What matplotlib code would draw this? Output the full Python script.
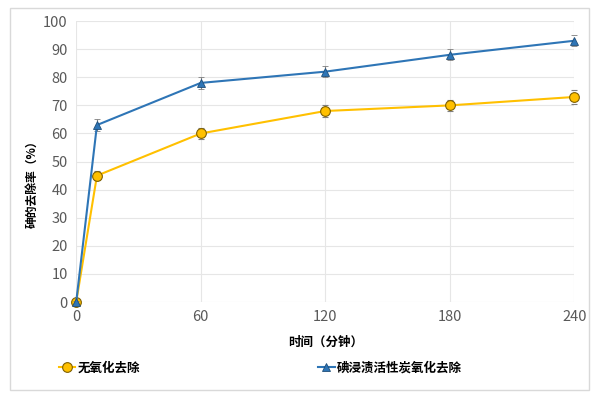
import matplotlib.pyplot as plt
from matplotlib.patches import Rectangle
from matplotlib.lines import Line2D

plt.rcParams['font.family'] = ['Noto Sans CJK SC', 'DejaVu Sans']

# data
time_min = [0, 10, 60, 120, 180, 240]
no_oxid = [0, 45, 60, 68, 70, 73]
iodine_ac = [0, 63, 78, 82, 88, 93]
no_oxid_err = [0.5, 1.5, 2, 2, 2, 2.5]
iodine_err = [0.5, 2, 2, 2, 2, 2]
x_ticks = [0, 60, 120, 180, 240]
y_ticks = list(range(0, 101, 10))

fig = plt.figure(figsize=(6, 3.98), dpi=100)
ax = fig.add_axes([0.127, 0.241, 0.83, 0.706])

# light frame around the whole chart
fig.patches.append(Rectangle((0.017, 0.02), 0.965, 0.96, transform=fig.transFigure,
                             fill=False, edgecolor='#d9d9d9', linewidth=1))

yellow_style = dict(color='#FFC000', linewidth=1.5, marker='o', markersize=7,
                    markerfacecolor='#FFC000', markeredgecolor='#7f6000', markeredgewidth=0.8)
blue_style = dict(color='#2E75B6', linewidth=1.5, marker='^', markersize=6,
                  markerfacecolor='#2E75B6', markeredgecolor='#1f4e79', markeredgewidth=0.6)

ax.errorbar(time_min, no_oxid, yerr=no_oxid_err, ecolor='#7f7f7f', elinewidth=0.8,
            capsize=2, zorder=3, **yellow_style)
ax.errorbar(time_min, iodine_ac, yerr=iodine_err, ecolor='#7f7f7f', elinewidth=0.8,
            capsize=2, zorder=4, **blue_style)

ax.set_xlim(0, 240)
ax.set_ylim(0, 100)
ax.set_xticks(x_ticks)
ax.set_yticks(y_ticks)
ax.grid(True, color='#e6e6e6', linewidth=0.8)
ax.set_axisbelow(True)
for s in ax.spines.values():
    s.set_visible(False)
ax.tick_params(length=0, labelsize=10.5, colors='#595959', pad=6)
for line in ax.lines:
    line.set_clip_on(False)

ax.set_xlabel('时间（分钟）', fontsize=9, fontweight='bold', color='#000000', labelpad=8)
ax.set_ylabel('砷的去除率（%）', fontsize=8.5, fontweight='bold', color='#000000')
ax.yaxis.set_label_coords(-0.076, 0.43)

h1 = Line2D([], [], **yellow_style)
h2 = Line2D([], [], **blue_style)
fig.legend([h1], ['无氧化去除'], loc='center left', bbox_to_anchor=(0.088, 0.075),
           frameon=False, handlelength=1.3, handletextpad=0.15, borderpad=0,
           prop={'weight': 'bold', 'size': 9})
fig.legend([h2], ['碘浸渍活性炭氧化去除'], loc='center left', bbox_to_anchor=(0.52, 0.075),
           frameon=False, handlelength=1.3, handletextpad=0.15, borderpad=0,
           prop={'weight': 'bold', 'size': 9})

fig.savefig('out.png', dpi=100)
